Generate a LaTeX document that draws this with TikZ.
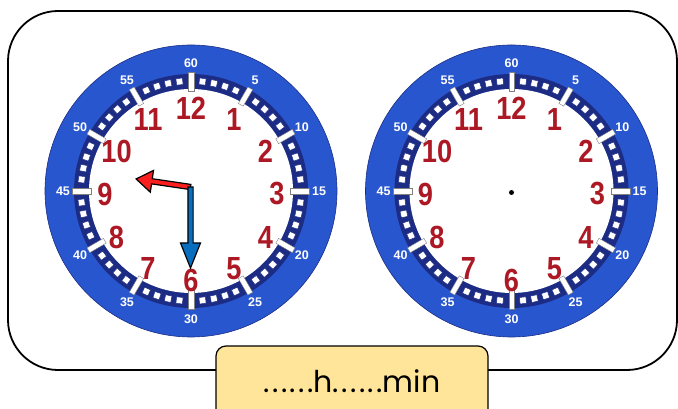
\documentclass[tikz,border=0pt]{standalone}
\usepackage{graphicx}
\usepackage{fontspec}
\setmainfont{Liberation Sans}
\newfontfamily\answerfont{Poppins}
\usetikzlibrary{
    arrows.meta,
    calc
}
\definecolor{DialBlue}{RGB}{40,86,206}
\definecolor{DialNavy}{RGB}{28,44,132}
\definecolor{HourRed}{RGB}{172,24,36}
\definecolor{HandRed}{RGB}{250,30,30}
\definecolor{HandBlue}{RGB}{10,110,190}
\definecolor{AnswerYellow}{RGB}{255,229,153}
\newcommand{\sixdots}{\makebox[50pt][s]{.\hfill.\hfill.\hfill.\hfill.\hfill.}}
\tikzset{
  hournum/.style = {text=HourRed, inner sep=0pt,
                    font=\fontsize{32}{32}\selectfont\bfseries},
  minnum/.style  = {text=white, inner sep=0pt,
                    font=\fontsize{12.5}{12.5}\selectfont\bfseries},
  minbox/.style  = {fill=white, draw=DialNavy, line width=0.5pt,
                    minimum size=6.5pt, inner sep=0pt},
  fivebox/.style = {fill=white, draw=gray, line width=0.4pt,
                    minimum width=19pt, minimum height=5.5pt, inner sep=0pt},
  hand/.style    = {draw=black, line width=1.2pt, line join=miter},
  frame/.style   = {draw=black, line width=1.8pt, rounded corners=50pt},
  answer/.style  = {draw=black, line width=1.2pt, rounded corners=10pt,
                    fill=AnswerYellow, minimum width=272pt, minimum height=78pt,
                    text height=16pt, text depth=0pt, inner sep=0pt,
                    font=\answerfont\fontsize{30}{30}\selectfont},
  clockface/.pic = {
    \coordinate (-c) at (0,0);
    \fill[DialBlue] (-c) circle (146pt);
    \draw[DialNavy, line width=0.6pt] (-c) circle (146pt);
    \fill[DialNavy] (-c) circle (117pt);
    \fill[white] (-c) circle (102pt);
    \foreach \m in {0,...,59} {
      \pgfmathsetmacro\a{90-6*\m}
      \pgfmathtruncatemacro\r{mod(\m,5)}
      \ifnum\r=0
        \node[fivebox, rotate=\a] (-t\m) at (\a:109pt) {};
      \else
        \node[minbox, rotate=\a] (-t\m) at (\a:110pt) {};
      \fi
    }
    \foreach \n in {1,...,12} {
      \pgfmathsetmacro\a{90-30*\n}
      \pgfmathtruncatemacro\v{5*\n}
      \node[minnum] (-m\v) at (\a:128pt) {\v};
      \node[hournum] (-h\n) at ([yshift=-3pt]\a:86pt) {\scalebox{0.85}[1]{\n}};
    }
  }
}
% center, angle, length, head length, head half width, colour
\newcommand{\clockhand}[6]{%
  \filldraw[hand, fill=#6, shift={(#1)}, rotate=#2]
    (0,-2.6) -- (#3-#4,-2.6) -- (#3-#4,-#5) -- (#3,0) -- (#3-#4,#5)
    -- (#3-#4,2.6) -- (0,2.6) -- cycle;
}

\begin{document}
\begin{tikzpicture}[x=1pt, y=1pt]
\useasboundingbox (0,0) rectangle (678,409);
\draw[frame] (8,39) rectangle (677,398);
\pic (lclock) at (191,218) {clockface};
\pic (rclock) at (511.5,218) {clockface};
\node[circle, fill=black, minimum size=5pt, inner sep=0pt] (pin) at ([yshift=-1.5pt]rclock-c) {};
\coordinate (pivot) at ([shift={(-0.5,4)}]lclock-c);
\clockhand{pivot}{171.6}{55}{16}{11}{HandRed}
\clockhand{pivot}{270}{81}{25}{10}{HandBlue}
\node[answer] (reply) at (352,24) {\sixdots h\sixdots min};
\end{tikzpicture}
\end{document}
